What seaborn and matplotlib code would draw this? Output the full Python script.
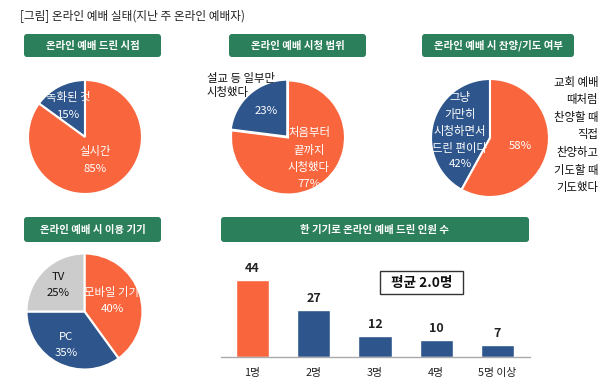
import matplotlib
matplotlib.use("Agg")
import matplotlib.pyplot as plt
import seaborn as sns
from matplotlib.patches import FancyBboxPatch, Rectangle

# ---------------- data ----------------
title = "[그림] 온라인 예배 실태(지난 주 온라인 예배자)"

p1_title = "온라인 예배 드린 시점"
p1_labels = ["녹화된 것", "실시간"]
p1_values = [15, 85]

p2_title = "온라인 예배 시청 범위"
p2_labels = ["설교 등 일부만\n시청했다", "처음부터\n끝까지\n시청했다"]
p2_values = [23, 77]

p3_title = "온라인 예배 시 찬양/기도 여부"
p3_labels = ["그냥\n가만히\n시청하면서\n드린 편이다",
             "교회 예배\n때처럼\n찬양할 때\n직접\n찬양하고\n기도할 때\n기도했다"]
p3_values = [42, 58]

p4_title = "온라인 예배 시 이용 기기"
p4_labels = ["모바일 기기", "PC", "TV"]
p4_values = [40, 35, 25]

bar_title = "한 기기로 온라인 예배 드린 인원 수"
bar_labels = ["1명", "2명", "3명", "4명", "5명 이상"]
bar_values = [44, 27, 12, 10, 7]
avg_text = "평균 2.0명"

# ---------------- style ----------------
ORANGE = "#F9663E"
BLUE = "#2E568C"
GRAY = "#CCCCCC"
GREEN = "#2C7F5B"

sns.set_theme(style="white")
plt.rcParams['font.family'] = ['Noto Sans CJK KR', 'DejaVu Sans']

W, H = 613, 385
fig = plt.figure(figsize=(W / 100, H / 100), dpi=100)
fig.patch.set_facecolor("white")

# overlay axes in pixel coordinates
ax0 = fig.add_axes([0, 0, 1, 1])
ax0.set_xlim(0, W)
ax0.set_ylim(H, 0)
ax0.axis("off")

ax0.text(20, 16, title, fontsize=8.4, color="#222222", ha="left", va="center")


def header(x0, x1, y0, y1, text):
    box = FancyBboxPatch((x0, y0), x1 - x0, y1 - y0,
                         boxstyle="round,pad=0,rounding_size=3",
                         facecolor=GREEN, edgecolor="none")
    ax0.add_patch(box)
    ax0.text((x0 + x1) / 2, (y0 + y1) / 2, text, color="white",
             fontsize=7.5, fontweight="bold", ha="center", va="center")


header(24, 161, 34, 57, p1_title)
header(229, 366, 34, 57, p2_title)
header(422, 574, 34, 57, p3_title)
header(24, 161, 217, 242, p4_title)
header(221, 529, 217, 242, bar_title)


def pie_axes(cx, cy, r):
    ax = fig.add_axes([(cx - r) / W, (H - (cy + r)) / H, 2 * r / W, 2 * r / H])
    ax.set_facecolor("none")
    return ax


def lab(ax, cx, cy, r, px, py, s, **kw):
    kw.setdefault("ha", "center")
    kw.setdefault("va", "center")
    kw.setdefault("fontsize", 8.2)
    ax.text((px - cx) / r, (cy - py) / r, s, clip_on=False, **kw)


wp = dict(edgecolor="white", linewidth=1.5)

# Pie 1
cx, cy, r = 85, 137, 57
ax1 = pie_axes(cx, cy, r)
ax1.pie(p1_values, colors=[BLUE, ORANGE], startangle=90, counterclock=True,
        wedgeprops=wp, radius=1)
ax1.set_xlim(-1, 1); ax1.set_ylim(-1, 1)
lab(ax1, cx, cy, r, 68.5, 106, f"{p1_labels[0]}\n{p1_values[0]}%", color="white", linespacing=1.8)
lab(ax1, cx, cy, r, 95.5, 160, f"{p1_labels[1]}\n{p1_values[1]}%", color="white", linespacing=1.8)

# Pie 2
cx, cy, r = 288, 137.5, 57
ax2 = pie_axes(cx, cy, r)
ax2.pie(p2_values, colors=[BLUE, ORANGE], startangle=90, counterclock=True,
        wedgeprops=wp, radius=1, explode=[0.02, 0])
ax2.set_xlim(-1, 1); ax2.set_ylim(-1, 1)
lab(ax2, cx, cy, r, 266.5, 111, f"{p2_values[0]}%", color="white")
lab(ax2, cx, cy, r, 207, 85.5, p2_labels[0], color="#111111", ha="left", linespacing=1.27)
lab(ax2, cx, cy, r, 309, 158, f"{p2_labels[1]}\n{p2_values[1]}%", color="white", linespacing=1.7)

# Pie 3
cx, cy, r = 490, 138, 59
ax3 = pie_axes(cx, cy, r)
ax3.pie(p3_values, colors=[BLUE, ORANGE], startangle=90, counterclock=True,
        wedgeprops=wp, radius=1)
ax3.set_xlim(-1, 1); ax3.set_ylim(-1, 1)
lab(ax3, cx, cy, r, 460, 130.5, f"{p3_labels[0]}\n{p3_values[0]}%", color="white", linespacing=1.66)
lab(ax3, cx, cy, r, 520, 146, f"{p3_values[1]}%", color="white")
lab(ax3, cx, cy, r, 598, 135, p3_labels[1], color="#111111", ha="right",
    multialignment="right", linespacing=1.73)

# Pie 4
cx, cy, r = 84.5, 311.5, 58
ax4 = pie_axes(cx, cy, r)
ax4.pie(p4_values, colors=[ORANGE, BLUE, GRAY], startangle=90, counterclock=False,
        wedgeprops=wp, radius=1)
ax4.set_xlim(-1, 1); ax4.set_ylim(-1, 1)
lab(ax4, cx, cy, r, 112, 300.5, f"{p4_labels[0]}\n{p4_values[0]}%", color="white", linespacing=1.8)
lab(ax4, cx, cy, r, 66, 345, f"{p4_labels[1]}\n{p4_values[1]}%", color="white", linespacing=1.8)
lab(ax4, cx, cy, r, 58, 285, f"{p4_labels[2]}\n{p4_values[2]}%", color="#111111", linespacing=1.8)

# Bar chart
bx0, bx1, by_bottom = 221, 530, 357
ymax = 50
bh = ymax * 1.75
axb = fig.add_axes([bx0 / W, (H - by_bottom) / H, (bx1 - bx0) / W, bh / H])
axb.set_facecolor("none")
sns.barplot(x=bar_labels, y=bar_values, hue=bar_labels,
            palette=[ORANGE] + [BLUE] * 4, width=0.54, legend=False,
            saturation=1, ax=axb)
axb.set_xlim(-0.514, 4.53)
axb.set_ylim(0, ymax)
for c in axb.containers:
    axb.bar_label(c, padding=3.5, fontsize=9, fontweight="bold", color="#222222")
for s in ["top", "right", "left"]:
    axb.spines[s].set_visible(False)
axb.spines["bottom"].set_color("#AAAAAA")
axb.spines["bottom"].set_linewidth(1)
axb.set_yticks([])
axb.tick_params(axis="x", length=0, pad=8, labelsize=7.8, labelcolor="#222222")
axb.set_xlabel(""); axb.set_ylabel("")

# average box
ax0.add_patch(Rectangle((380, 271), 83, 23, facecolor="white", edgecolor="#333333", linewidth=1))
ax0.text(421.5, 282.5, avg_text, fontsize=9.8, fontweight="bold", ha="center", va="center", color="#111111")

fig.savefig("out.png", dpi=100, facecolor="white")
